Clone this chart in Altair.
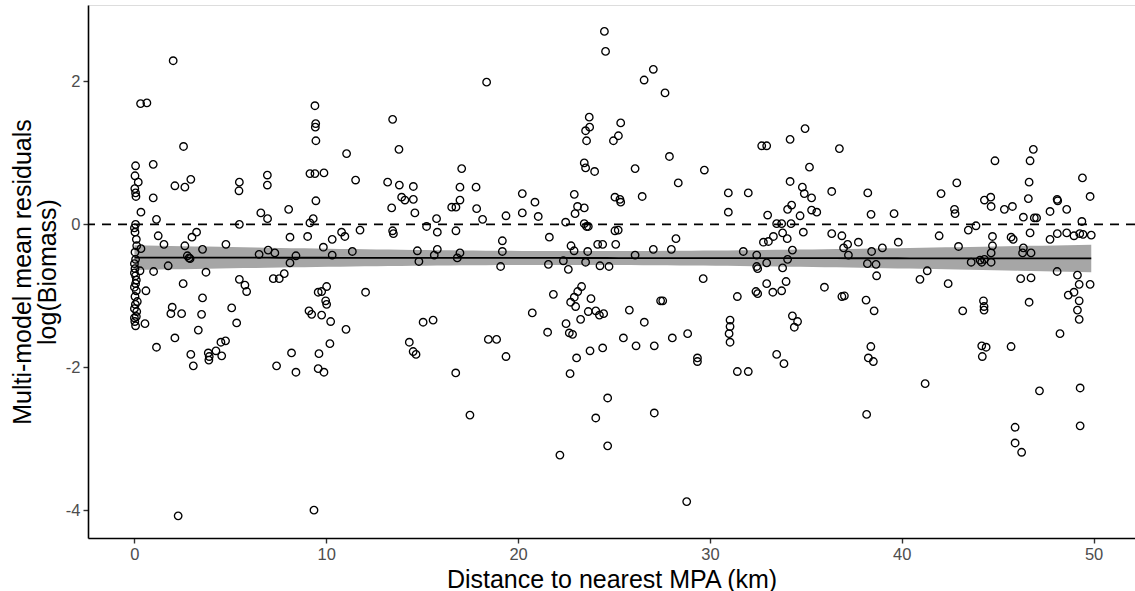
import altair as alt
import numpy as np
import pandas as pd

# ---- data (distance km, residual) ----
dist = [
    # near 0 column
    0.06, 0.03, 0.2, 0.06, 0.08, 0.06, 0.03, 0.1, 0.03, 0.06, 0.03, 0.06, 0.06, 0.1, 0.03, 0.15, 0.0, 0.1, 0.0, 0.06,
    0.02, 0.0, 0.12, 0.0, 0.1, 0.0, 0.05, 0.12, 0.02, 0.0,
    # 0-3 km
    2.02, 0.32, 0.65, 2.56, 0.98, 2.11, 2.63, 2.94, 0.98, 0.34, 1.15, 1.24, 0.34, 1.54, 2.63, 3.0, 2.76, 2.85, 2.9,
    0.29, 1.0, 1.76, 2.54, 0.6, 0.55, 1.97, 1.90, 2.46, 2.11, 1.15, 2.94, 3.07, 2.28,
    # 3-8.5 km
    5.47, 5.45, 6.93, 6.93, 6.59, 6.94, 8.04, 5.47, 3.24, 3.55, 4.77, 8.11, 6.97, 7.32, 6.5, 8.42, 8.11, 7.81, 7.55,
    7.24, 3.73, 5.47, 5.76, 5.85, 3.55, 5.07, 3.5, 5.33, 3.33, 3.85, 3.9, 3.88, 4.25, 4.51, 4.75, 4.55, 7.41, 8.19, 8.42,
    # 8.5-14 km
    9.41, 9.45, 9.43, 9.46, 11.06, 13.46, 13.79, 9.15, 9.41, 9.88, 11.53, 13.2, 13.81, 13.93, 13.41, 9.46, 9.32, 9.15,
    9.03, 10.8, 10.97, 10.31, 11.76, 13.46, 13.5, 9.85, 10.31, 11.36, 10.02, 9.58, 9.76, 9.97, 10.02, 9.1, 9.24, 9.76,
    10.23, 11.03, 12.05, 10.19, 9.62, 9.58, 9.88, 9.36,
    # 14-19.5 km
    18.36, 14.1, 14.54, 14.54, 14.62, 15.23, 15.75, 15.79, 17.06, 16.97, 16.97, 16.54, 16.76, 17.81, 17.84, 18.15,
    16.76, 19.37, 19.18, 19.18, 19.09, 14.75, 14.83, 15.79, 15.63, 16.97, 16.83, 15.05, 15.57, 14.33, 14.53, 14.68,
    18.45, 18.88, 19.37, 16.75, 17.49,
    # 20-25 km
    24.5, 24.56, 23.71, 23.73, 23.52, 23.57, 24.97, 23.45, 23.52, 23.99, 25.05, 20.22, 20.88, 20.22, 21.05, 22.93,
    23.1, 23.45, 22.97, 22.48, 23.45, 23.57, 23.66, 21.63, 22.76, 22.92, 23.63, 23.52, 24.15, 24.41, 25.05, 21.58,
    22.36, 22.62, 24.27, 24.74, 21.84, 20.74, 23.31, 23.11, 22.93, 22.74, 23.0, 23.8, 23.66, 24.05, 24.24, 24.46,
    23.26, 22.5, 22.67, 22.84, 21.54, 23.05, 23.75, 24.41, 22.71, 24.67, 24.05, 24.67, 22.18,
    # 25-30 km
    27.05, 26.57, 27.66, 25.35, 25.23, 27.89, 26.1, 29.71, 28.35, 25.31, 25.35, 26.47, 25.22, 28.23, 25.09, 26.1,
    27.05, 27.99, 29.65, 27.43, 27.54, 25.8, 26.58, 25.49, 26.15, 27.1, 28.04, 28.84, 29.35, 29.35, 27.1, 28.79,
    # 30-37 km
    34.96, 32.7, 32.96, 34.18, 35.19, 30.96, 32.0, 30.96, 34.18, 34.82, 34.92, 35.3, 35.3, 35.57, 34.26, 34.05, 34.7,
    33.01, 33.48, 33.74, 34.23, 33.79, 34.03, 34.87, 33.31, 33.05, 32.79, 36.88, 36.97, 34.3, 34.05, 33.79, 31.74,
    32.44, 32.96, 32.44, 32.49, 32.96, 33.28, 33.74, 33.97, 32.4, 32.49, 31.43, 36.88, 31.05, 31.05, 31.0, 31.05,
    34.3, 34.57, 34.4, 33.48, 33.86, 31.43, 32.0,
    # 36-41.5 km
    36.75, 36.35, 38.23, 38.4, 39.6, 36.35, 37.18, 37.74, 39.82, 37.22, 38.43, 38.99, 38.21, 38.66, 38.69, 40.95,
    41.33, 35.97, 37.01, 38.14, 38.56, 38.39, 38.26, 38.52, 41.22, 38.17,
    # 42-47 km
    44.86, 42.87, 42.05, 42.75, 42.78, 44.31, 44.64, 44.66, 45.35, 45.77, 46.86, 46.69, 46.64, 46.6, 46.34, 46.91,
    43.87, 43.47, 41.95, 44.73, 44.73, 45.7, 45.81, 46.69, 42.96, 46.34, 46.3, 46.74, 44.66, 44.17, 43.62, 44.08,
    44.31, 44.66, 42.42, 43.18, 44.26, 44.29, 44.29, 46.2, 46.74, 46.64, 44.17, 44.4, 44.2, 45.7, 45.91, 45.91, 46.25,
    # 47-50 km
    49.42, 49.82, 48.1, 48.13, 47.73, 48.6, 47.03, 49.39, 48.11, 48.6, 48.98, 49.28, 49.45, 49.88, 47.73, 48.1,
    49.16, 49.25, 48.98, 48.68, 49.25, 49.16, 49.25, 49.82, 48.25, 47.18, 49.3, 49.3,
]
resid = [
    0.82, 0.68, 0.59, 0.44, 0.39, 0.0, -0.11, -0.21, -0.39, -0.49, -0.62, -0.72, -0.83, -0.93, -1.01, -1.08, -1.18,
    -1.29, -1.31, -1.42,
    0.5, -0.05, -0.3, -0.55, -0.78, -0.88, -1.12, -1.22, -1.36, -0.68,
    2.29, 1.69, 1.70, 1.09, 0.84, 0.54, 0.52, 0.63, 0.37, 0.17, 0.07, -0.16, -0.34, -0.28, -0.30, -0.18, -0.44, -0.47,
    -0.48, -0.65, -0.66, -0.58, -0.83, -0.93, -1.39, -1.16, -1.25, -1.25, -1.59, -1.72, -1.82, -1.98, -4.08,
    0.59, 0.47, 0.69, 0.55, 0.16, 0.08, 0.21, 0.0, -0.11, -0.35, -0.28, -0.18, -0.36, -0.40, -0.42, -0.44, -0.54,
    -0.69, -0.76, -0.76, -0.67, -0.77, -0.85, -0.94, -1.03, -1.17, -1.26, -1.38, -1.48, -1.80, -1.85, -1.90, -1.77,
    -1.65, -1.63, -1.84, -1.98, -1.80, -2.07,
    1.66, 1.41, 1.36, 1.17, 0.99, 1.47, 1.05, 0.71, 0.71, 0.72, 0.62, 0.59, 0.55, 0.38, 0.23, 0.33, 0.08, 0.02, -0.17,
    -0.11, -0.17, -0.21, -0.08, -0.09, -0.13, -0.32, -0.43, -0.38, -0.87, -0.95, -0.94, -1.07, -1.12, -1.21, -1.26,
    -1.27, -1.36, -1.47, -0.95, -1.67, -1.81, -2.02, -2.07, -4.0,
    1.99, 0.34, 0.53, 0.35, 0.16, -0.03, 0.08, -0.11, 0.78, 0.52, 0.34, 0.24, 0.24, 0.52, 0.22, 0.07, -0.09, 0.12,
    -0.23, -0.38, -0.59, -0.37, -0.52, -0.35, -0.43, -0.40, -0.47, -1.37, -1.34, -1.65, -1.78, -1.82, -1.61, -1.61,
    -1.85, -2.08, -2.67,
    2.70, 2.42, 1.50, 1.36, 1.31, 1.17, 1.17, 0.86, 0.79, 0.74, 0.38, 0.43, 0.31, 0.16, 0.11, 0.42, 0.25, 0.23, 0.15,
    0.03, 0.01, -0.03, -0.03, -0.18, -0.30, -0.37, -0.38, -0.53, -0.28, -0.28, -0.09, -0.56, -0.51, -0.63, -0.58,
    -0.59, -0.98, -1.24, -0.87, -0.94, -1.02, -1.09, -1.15, -1.04, -1.22, -1.21, -1.27, -1.25, -1.33, -1.39, -1.52,
    -1.54, -1.51, -1.87, -1.77, -1.73, -2.09, -2.43, -2.71, -3.10, -3.23,
    2.17, 2.02, 1.84, 1.42, 1.24, 0.95, 0.78, 0.76, 0.58, 0.35, 0.31, 0.39, -0.08, -0.20, -0.28, -0.43, -0.35, -0.35,
    -0.76, -1.07, -1.07, -1.2, -1.37, -1.59, -1.70, -1.70, -1.59, -1.53, -1.87, -1.92, -2.64, -3.88,
    1.34, 1.10, 1.10, 1.19, 0.80, 0.44, 0.44, 0.17, 0.60, 0.52, 0.43, 0.37, 0.20, 0.17, 0.27, 0.21, 0.12, 0.13, 0.01,
    0.01, 0.01, -0.12, -0.20, -0.11, -0.17, -0.24, -0.25, -0.16, -0.33, -0.36, -0.49, -0.61, -0.38, -0.43, -0.54,
    -0.59, -0.62, -0.83, -0.95, -0.93, -0.80, -0.94, -0.97, -1.01, -1.01, -1.34, -1.43, -1.53, -1.65, -1.28, -1.36,
    -1.44, -1.82, -1.95, -2.06, -2.06,
    1.06, 0.46, 0.44, 0.14, 0.15, -0.13, -0.28, -0.25, -0.25, -0.43, -0.38, -0.33, -0.55, -0.56, -0.72, -0.77, -0.65,
    -0.88, -1.0, -1.06, -1.21, -1.71, -1.87, -1.92, -2.23, -2.66,
    0.89, 0.58, 0.43, 0.21, 0.15, 0.34, 0.38, 0.25, 0.21, 0.25, 1.05, 0.89, 0.59, 0.36, 0.10, 0.09, -0.02, -0.08,
    -0.16, -0.17, -0.30, -0.18, -0.21, -0.12, -0.31, -0.33, -0.40, -0.40, -0.40, -0.53, -0.53, -0.50, -0.49, -0.53,
    -0.83, -1.21, -1.07, -1.15, -1.20, -0.76, -0.75, -1.09, -1.70, -1.72, -1.85, -1.71, -2.84, -3.06, -3.19,
    0.65, 0.39, 0.35, 0.33, 0.18, 0.21, 0.09, 0.04, -0.13, -0.12, -0.16, -0.13, -0.14, -0.15, -0.21, -0.66, -0.71,
    -0.84, -0.95, -0.99, -1.07, -1.20, -1.33, -0.84, -1.53, -2.33, -2.29, -2.82,
]

x_ticks = [0, 10, 20, 30, 40, 50]
y_ticks = [-4, -2, 0, 2]

pts = pd.DataFrame({"dist": dist, "resid": resid})

# linear fit with 95% confidence band (as geom_smooth(method = "lm"))
xa = np.array(dist)
ya = np.array(resid)
n = len(xa)
b, a = np.polyfit(xa, ya, 1)
res = ya - (a + b * xa)
s = np.sqrt(np.sum(res ** 2) / (n - 2))
sxx = np.sum((xa - xa.mean()) ** 2)
grid = np.linspace(xa.min(), xa.max(), 80)
fit = a + b * grid
se = s * np.sqrt(1.0 / n + (grid - xa.mean()) ** 2 / sxx)
smooth = pd.DataFrame({"dist": grid, "fit": fit, "lo": fit - 1.966 * se, "hi": fit + 1.966 * se})

FONT = "Liberation Sans"
xscale = alt.Scale(domain=[-2.42, 52.16], nice=False, zero=False)
yscale = alt.Scale(domain=[-4.39, 3.07], nice=False, zero=False)

xaxis = alt.Axis(values=x_ticks, title="Distance to nearest MPA (km)", grid=False,
                 labelExpr="'' + datum.value",
                 domainColor="black", domainWidth=1.6, tickColor="#333333", tickWidth=1.4, tickSize=5,
                 labelColor="#4d4d4d", labelFontSize=16.5, labelFont=FONT, labelPadding=3,
                 titleFont=FONT, titleFontSize=25, titleFontWeight="normal", titleColor="black",
                 titleX=523.5, titleY=49, titleBaseline="alphabetic", titleAlign="center")
yaxis = alt.Axis(values=y_ticks, title=["Multi-model mean residuals", "log(Biomass)"], grid=False,
                 labelExpr="'' + datum.value",
                 domainColor="black", domainWidth=1.6, tickColor="#333333", tickWidth=1.4, tickSize=5,
                 labelColor="#4d4d4d", labelFontSize=16.5, labelFont=FONT, labelPadding=3,
                 titleFont=FONT, titleFontSize=25, titleFontWeight="normal", titleColor="black",
                 titleLineHeight=25, titleX=-66, titleY=266.5, titleAngle=-90,
                 titleBaseline="middle", titleAlign="center")

band = alt.Chart(smooth).mark_area(color="#a6a6a6", opacity=1).encode(
    x=alt.X("dist:Q", scale=xscale, axis=xaxis),
    y=alt.Y("lo:Q", scale=yscale, axis=yaxis),
    y2="hi:Q",
)

points = alt.Chart(pts).mark_point(shape="circle", filled=False, color="black", size=56, strokeWidth=1.35,
                                   opacity=1).encode(
    x=alt.X("dist:Q", scale=xscale),
    y=alt.Y("resid:Q", scale=yscale),
)

line = alt.Chart(smooth).mark_line(color="black", strokeWidth=1.8).encode(
    x=alt.X("dist:Q", scale=xscale),
    y=alt.Y("fit:Q", scale=yscale),
)

zero = alt.Chart(pd.DataFrame({"y": [0]})).mark_rule(color="black", strokeWidth=1.6, strokeDash=[9, 7]).encode(
    y=alt.Y("y:Q", scale=yscale),
)

chart = alt.layer(band, points, line, zero).properties(
    width=1047, height=533,
    autosize=alt.AutoSizeParams(type="none"),
    padding={"left": 88, "top": 5, "right": 0, "bottom": 53},
).configure_view(stroke=None).configure(background="white")

chart.save("out.html", embed_options={"renderer": "svg", "actions": False})
